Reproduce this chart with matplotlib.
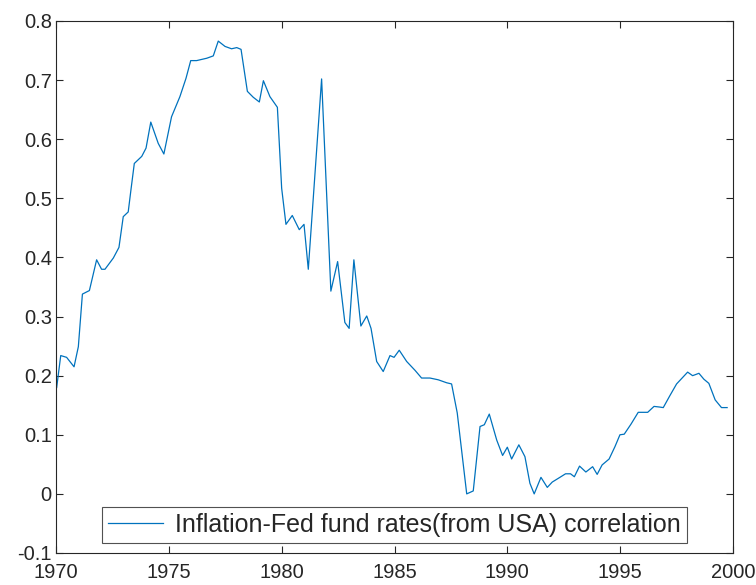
import matplotlib
matplotlib.use("Agg")
import matplotlib.pyplot as plt

plt.rcParams['font.family'] = ['Liberation Sans', 'DejaVu Sans']
plt.rcParams['axes.unicode_minus'] = False

years = [1970.03, 1970.21, 1970.47, 1970.80, 1970.99, 1971.17, 1971.48, 1971.80, 1972.02, 1972.17,
         1972.54, 1972.79, 1972.98, 1973.20, 1973.32, 1973.47, 1973.80, 1973.99, 1974.20, 1974.53,
         1974.78, 1975.12, 1975.49, 1975.76, 1975.97, 1976.23, 1976.68, 1976.97, 1977.19, 1977.49,
         1977.78, 1978.01, 1978.20, 1978.48, 1978.74, 1979.01, 1979.19, 1979.48, 1979.81, 1980.00,
         1980.19, 1980.47, 1980.78, 1980.99, 1981.18, 1981.77, 1982.18, 1982.48, 1982.80, 1982.99,
         1983.20, 1983.51, 1983.77, 1983.96, 1984.21, 1984.50, 1984.80, 1984.98, 1985.21, 1985.54,
         1985.91, 1986.20, 1986.57, 1986.94, 1987.31, 1987.53, 1987.78, 1988.20, 1988.49, 1988.79,
         1988.98, 1989.20, 1989.53, 1989.79, 1990.00, 1990.19, 1990.51, 1990.78, 1991.00, 1991.19,
         1991.49, 1991.77, 1991.99, 1992.33, 1992.58, 1992.80, 1992.97, 1993.20, 1993.48, 1993.78,
         1993.98, 1994.20, 1994.51, 1994.77, 1994.99, 1995.18, 1995.48, 1995.80, 1996.02, 1996.22,
         1996.50, 1996.73, 1996.91, 1997.20, 1997.50, 1997.77, 1997.99, 1998.21, 1998.49, 1998.71,
         1998.93, 1999.21, 1999.49, 1999.74]
corr = [0.180, 0.234, 0.231, 0.215, 0.249, 0.338, 0.344, 0.396, 0.380, 0.380,
        0.399, 0.417, 0.469, 0.477, 0.514, 0.559, 0.571, 0.585, 0.629, 0.593,
        0.575, 0.638, 0.672, 0.703, 0.733, 0.733, 0.737, 0.741, 0.766, 0.757,
        0.753, 0.755, 0.752, 0.681, 0.671, 0.663, 0.699, 0.672, 0.654, 0.517,
        0.456, 0.471, 0.447, 0.456, 0.380, 0.702, 0.343, 0.393, 0.290, 0.280,
        0.396, 0.284, 0.301, 0.280, 0.224, 0.207, 0.234, 0.231, 0.243, 0.224,
        0.209, 0.196, 0.196, 0.193, 0.188, 0.186, 0.137, 0.000, 0.005, 0.114,
        0.117, 0.135, 0.091, 0.065, 0.079, 0.059, 0.083, 0.063, 0.018, 0.000,
        0.028, 0.011, 0.020, 0.028, 0.034, 0.034, 0.029, 0.047, 0.037, 0.046,
        0.033, 0.049, 0.059, 0.080, 0.100, 0.101, 0.118, 0.138, 0.138, 0.138,
        0.148, 0.147, 0.146, 0.166, 0.186, 0.197, 0.206, 0.200, 0.204, 0.194,
        0.187, 0.159, 0.146, 0.146]

series_label = 'Inflation-Fed fund rates(from USA) correlation'
x_ticks = [1970, 1975, 1980, 1985, 1990, 1995, 2000]
y_ticks = [-0.1, 0, 0.1, 0.2, 0.3, 0.4, 0.5, 0.6, 0.7, 0.8]
y_tick_labels = ['-0.1', '0', '0.1', '0.2', '0.3', '0.4', '0.5', '0.6', '0.7', '0.8']

fig = plt.figure(figsize=(7.56, 5.85), dpi=100)
ax = fig.add_axes([56/756, 1 - 553/585, (733-56)/756, (553-21)/585])
ax.plot(years, corr, color='#0072BD', linewidth=0.9, label=series_label)
ax.set_xlim(1970, 2000)
ax.set_ylim(-0.1, 0.8)
ax.set_xticks(x_ticks)
ax.set_xticklabels([str(v) for v in x_ticks])
ax.set_yticks(y_ticks)
ax.set_yticklabels(y_tick_labels)
ax.tick_params(direction='in', top=True, right=True, labelsize=14.5,
               length=5, width=0.8, color='#262626', labelcolor='#262626', pad=3)
ax.tick_params(axis='x', pad=7)
for s in ax.spines.values():
    s.set_color('#262626')
    s.set_linewidth(0.8)
leg = ax.legend(loc='lower center', fontsize=18, frameon=True, fancybox=False,
                edgecolor='#262626', handlelength=2.2, borderaxespad=0.4,
                borderpad=0.25, handletextpad=0.5)
leg.get_frame().set_linewidth(0.8)
for t in leg.get_texts():
    t.set_color('#262626')
fig.savefig('out.png', dpi=100, facecolor='white')
